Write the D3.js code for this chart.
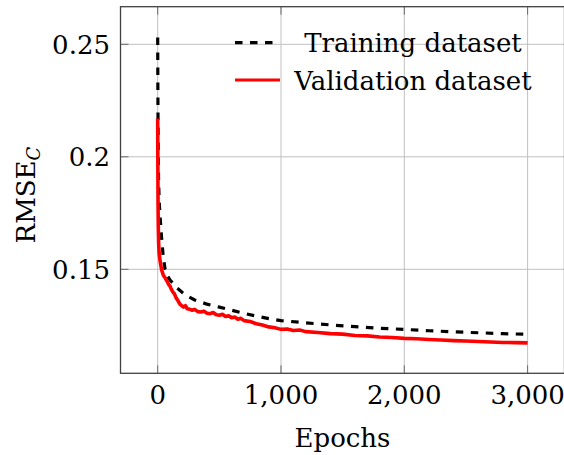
<!DOCTYPE html>
<html>
<head>
<meta charset="utf-8">
<script src="https://cdn.jsdelivr.net/npm/d3@7"></script>
<style>
  html, body { margin: 0; padding: 0; background: #fff; }
  svg { display: block; }
  text { font-family: "DejaVu Serif", serif; fill: #000; }
</style>
</head>
<body>
<svg id="chart" width="564" height="455"></svg>
<script>
// ---- data ----
const trainEpochs = [0, 1, 2, 4, 7, 12, 20, 30, 45, 60, 80, 100, 125, 150, 200, 250, 300, 400, 500, 600, 700, 800, 900, 1000, 1200, 1400, 1600, 1800, 2000, 2200, 2400, 2600, 2800, 3000];
const trainRMSE = [0.253, 0.235, 0.222, 0.205, 0.190, 0.180, 0.173, 0.165, 0.1555, 0.1500, 0.1470, 0.1452, 0.1437, 0.1420, 0.1397, 0.1378, 0.1364, 0.1345, 0.1332, 0.1318, 0.1304, 0.1292, 0.1281, 0.1272, 0.1262, 0.1253, 0.1245, 0.1238, 0.1233, 0.1227, 0.1222, 0.1218, 0.1214, 0.1211];

const valEpochs = [0, 1, 2, 3, 5, 8, 12, 20, 32, 45, 60, 75, 90, 100, 110, 124, 135, 150, 165, 180, 195, 210, 225, 240, 260, 280, 300, 325, 350, 375, 400, 425, 450, 475, 500, 525, 550, 575, 600, 625, 650, 675, 700, 750, 800, 850, 900, 950, 1000, 1050, 1100, 1150, 1200, 1300, 1400, 1500, 1600, 1700, 1800, 1900, 2000, 2100, 2200, 2300, 2400, 2500, 2600, 2700, 2800, 2900, 3000];
const valRMSE = [0.217, 0.200, 0.188, 0.178, 0.168, 0.161, 0.157, 0.1535, 0.1497, 0.1475, 0.1462, 0.1448, 0.1432, 0.1425, 0.1412, 0.1398, 0.1392, 0.1372, 0.1360, 0.1345, 0.1338, 0.1332, 0.1338, 0.1325, 0.1322, 0.1318, 0.1322, 0.1312, 0.1310, 0.1314, 0.1305, 0.1303, 0.1308, 0.1298, 0.1296, 0.1300, 0.1290, 0.1293, 0.1285, 0.1288, 0.1278, 0.1282, 0.1272, 0.1268, 0.1258, 0.1252, 0.1244, 0.1240, 0.1233, 0.1235, 0.1228, 0.1230, 0.1223, 0.1219, 0.1214, 0.1212, 0.1206, 0.1204, 0.1199, 0.1197, 0.1193, 0.1191, 0.1188, 0.1186, 0.1183, 0.1181, 0.1179, 0.1177, 0.1175, 0.1174, 0.1173];

const xTicks = [0, 1000, 2000, 3000];
const xTickLabels = ["0", "1,000", "2,000", "3,000"];
const yTicks = [0.15, 0.2, 0.25];
const yTickLabels = ["0.15", "0.2", "0.25"];
const seriesNames = ["Training dataset", "Validation dataset"];

// ---- layout ----
const svg = d3.select("#chart");
const pLeft = 120.5, pRight = 564.5, pTop = 6.7, pBottom = 373.3;

const x = d3.scaleLinear().domain([0, 1000]).range([157.7, 281]);
const y = d3.scaleLinear().domain([0.15, 0.25]).range([269.3, 44.3]);

svg.append("defs").append("clipPath").attr("id", "clip")
  .append("rect").attr("x", pLeft).attr("y", pTop).attr("width", pRight - pLeft).attr("height", pBottom - pTop);

// grid
const grid = svg.append("g");
xTicks.forEach(t => {
  grid.append("line").attr("x1", x(t)).attr("x2", x(t)).attr("y1", pTop).attr("y2", pBottom)
    .attr("stroke", "#c0c0c0").attr("stroke-width", 1);
});
yTicks.forEach(t => {
  grid.append("line").attr("x1", pLeft).attr("x2", pRight).attr("y1", y(t)).attr("y2", y(t))
    .attr("stroke", "#c0c0c0").attr("stroke-width", 1);
});

// ticks (inside, both sides)
const tl = 8;
const ticks = svg.append("g").attr("stroke", "#6a6a6a").attr("stroke-width", 1);
xTicks.forEach(t => {
  ticks.append("line").attr("x1", x(t)).attr("x2", x(t)).attr("y1", pBottom).attr("y2", pBottom - tl);
  ticks.append("line").attr("x1", x(t)).attr("x2", x(t)).attr("y1", pTop).attr("y2", pTop + tl);
});
yTicks.forEach(t => {
  ticks.append("line").attr("x1", pLeft).attr("x2", pLeft + tl).attr("y1", y(t)).attr("y2", y(t));
});

// lines
const lineGen = d3.line().x(d => x(d[0])).y(d => y(d[1]));
const trainData = trainEpochs.map((e, i) => [e, trainRMSE[i]]);
const valData = valEpochs.map((e, i) => [e, valRMSE[i]]);

const plot = svg.append("g").attr("clip-path", "url(#clip)");
plot.append("path").datum(trainData).attr("d", lineGen)
  .attr("fill", "none").attr("stroke", "#000").attr("stroke-width", 3.2)
  .attr("stroke-dasharray", "7.5,7.5");
plot.append("path").datum(valData).attr("d", lineGen)
  .attr("fill", "none").attr("stroke", "#ff0000").attr("stroke-width", 3.6)
  .attr("stroke-linejoin", "round");

// frame
svg.append("rect").attr("x", pLeft).attr("y", pTop).attr("width", pRight - pLeft).attr("height", pBottom - pTop)
  .attr("fill", "none").attr("stroke", "#404040").attr("stroke-width", 1.3);

// tick labels
xTicks.forEach((t, i) => {
  svg.append("text").attr("x", x(t)).attr("y", 404).attr("text-anchor", "middle")
    .attr("font-size", 26).text(xTickLabels[i]);
});
yTicks.forEach((t, i) => {
  svg.append("text").attr("x", 110).attr("y", y(t) + 9.5).attr("text-anchor", "end")
    .attr("font-size", 26).text(yTickLabels[i]);
});

// axis labels
svg.append("text").attr("x", 342.5).attr("y", 447).attr("text-anchor", "middle")
  .attr("font-size", 26).text("Epochs");
const yl = svg.append("text").attr("transform", "translate(35,195) rotate(-90)")
  .attr("text-anchor", "middle").attr("font-size", 26);
yl.append("tspan").text("RMSE");
yl.append("tspan").attr("font-size", 18).attr("font-style", "italic").attr("dy", 5).text("C");

// legend
const legY = [42.7, 80];
svg.append("line").attr("x1", 235).attr("x2", 280).attr("y1", legY[0]).attr("y2", legY[0])
  .attr("stroke", "#000").attr("stroke-width", 3.2).attr("stroke-dasharray", "7.5,7.5");
svg.append("line").attr("x1", 235).attr("x2", 280).attr("y1", legY[1]).attr("y2", legY[1])
  .attr("stroke", "#ff0000").attr("stroke-width", 2.8);
seriesNames.forEach((n, i) => {
  svg.append("text").attr("x", 413).attr("y", legY[i] + 9.5).attr("text-anchor", "middle")
    .attr("font-size", 26).text(n);
});
</script>
</body>
</html>
